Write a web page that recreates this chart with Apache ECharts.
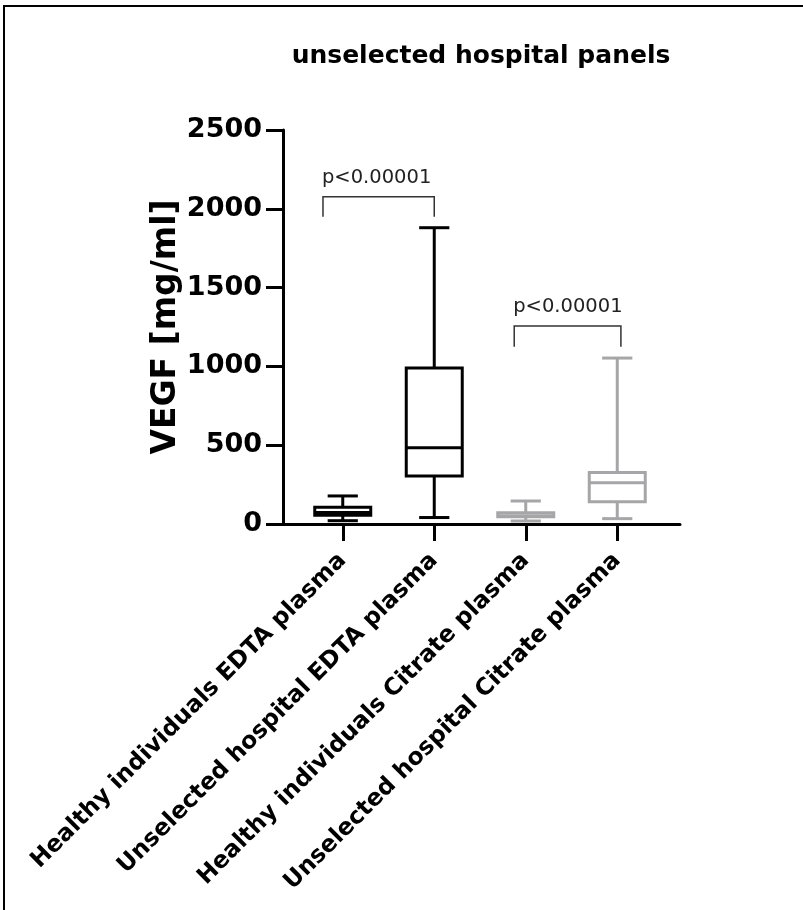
<!DOCTYPE html>
<html>
<head>
<meta charset="utf-8">
<style>html,body{margin:0;padding:0;background:#fff;}#chart{width:803px;height:910px;}</style>
<script src="https://cdn.jsdelivr.net/npm/echarts@6/dist/echarts.min.js"></script>
</head>
<body>
<div id="chart"></div>
<script>
// ---- data ----
const categories = [
  'Healthy individuals EDTA plasma',
  'Unselected hospital EDTA plasma',
  'Healthy individuals Citrate plasma',
  'Unselected hospital Citrate plasma'
];
const whiskerMin = [21, 41, 19, 34];
const q1 = [56, 305, 46, 141];
const median = [73, 484, 53, 262];
const q3 = [107, 990, 72, 327];
const whiskerMax = [178, 1880, 146, 1053];
const boxColors = ['#000000', '#000000', '#a6a6a8', '#a6a6a8'];
const yTicks = [0, 500, 1000, 1500, 2000, 2500];
const pLabels = ['p<0.00001', 'p<0.00001'];
const bracketPairs = [[0, 1], [2, 3]];
const bracketTop = [2077, 1256];
const bracketLeg = [1950, 1125];

const FONT = 'DejaVu Sans';
const boxData = categories.map((c, i) => [i, whiskerMin[i], q1[i], median[i], q3[i], whiskerMax[i]]);
const bracketData = bracketPairs.map((p, i) => [p[0], p[1], bracketTop[i], bracketLeg[i], i]);
const bracketOffsets = [[-0.216, 0.0], [-0.126, 0.04]];

const chart = echarts.init(document.getElementById('chart'));
chart.setOption({
  animation: false,
  backgroundColor: '#fff',
  graphic: [{
    type: 'rect', shape: { x: 4, y: 6, width: 900, height: 1000 },
    style: { fill: 'none', stroke: '#000', lineWidth: 2 }, silent: true
  }, {
    type: 'text', x: 481, y: 56, silent: true,
    style: { text: 'unselected hospital panels', fontFamily: FONT, fontWeight: 'bold', fontSize: 25, fill: '#000', align: 'center', verticalAlign: 'middle' }
  }],
  grid: [
    { left: 283, right: 123, top: 130, bottom: 386, containLabel: false, outerBoundsMode: 'none' },
    { left: 297, right: 140, top: 130, bottom: 386, containLabel: false, outerBoundsMode: 'none' }
  ],
  xAxis: [
    { gridIndex: 0, type: 'value', min: 0, max: 1,
      axisLine: { show: true, onZero: false, lineStyle: { color: '#000', width: 3 } },
      axisTick: { show: false }, axisLabel: { show: false }, splitLine: { show: false } },
    { gridIndex: 1, type: 'category', data: categories, boundaryGap: true,
      axisLine: { show: false },
      axisTick: { show: true, alignWithLabel: true, interval: 0, length: 17, lineStyle: { color: '#000', width: 3 } },
      axisLabel: { interval: 0, rotate: 45, margin: 33, fontFamily: FONT, fontWeight: 'bold', fontSize: 23.5, color: '#000' },
      splitLine: { show: false } }
  ],
  yAxis: [
    { gridIndex: 0, type: 'value', min: yTicks[0], max: yTicks[yTicks.length - 1], interval: 500,
      name: 'VEGF [mg/ml]', nameLocation: 'middle', nameGap: 98,
      nameTextStyle: { fontFamily: FONT, fontWeight: 'bold', fontSize: 33, color: '#000' },
      axisLine: { show: true, lineStyle: { color: '#000', width: 3 } },
      axisTick: { show: true, length: 17, lineStyle: { color: '#000', width: 3 } },
      axisLabel: { margin: 21, formatter: v => String(v), fontFamily: FONT, fontWeight: 'bold', fontSize: 27, color: '#000' },
      splitLine: { show: false } },
    { gridIndex: 1, type: 'value', min: yTicks[0], max: yTicks[yTicks.length - 1], interval: 500, show: false }
  ],
  series: [
    {
      type: 'custom', xAxisIndex: 1, yAxisIndex: 1, data: boxData,
      renderItem: function (params, api) {
        const i = api.value(0);
        const col = boxColors[i];
        const bw = api.size([1, 0])[0];
        const boxW = bw * 0.612, capW = bw * 0.33;
        const x = api.coord([i, 0])[0];
        const y = v => api.coord([i, v])[1];
        const yMin = y(api.value(1)), yQ1 = y(api.value(2)), yMed = y(api.value(3)), yQ3 = y(api.value(4)), yMax = y(api.value(5));
        const ls = { stroke: col, lineWidth: 3 };
        return { type: 'group', children: [
          { type: 'line', shape: { x1: x, y1: yQ3, x2: x, y2: yMax }, style: ls },
          { type: 'line', shape: { x1: x - capW / 2, y1: yMax, x2: x + capW / 2, y2: yMax }, style: ls },
          { type: 'line', shape: { x1: x, y1: yQ1, x2: x, y2: yMin }, style: ls },
          { type: 'line', shape: { x1: x - capW / 2, y1: yMin, x2: x + capW / 2, y2: yMin }, style: ls },
          { type: 'rect', shape: { x: x - boxW / 2, y: yQ3, width: boxW, height: yQ1 - yQ3 }, style: { fill: '#fff', stroke: col, lineWidth: 3 } },
          { type: 'line', shape: { x1: x - boxW / 2, y1: yMed, x2: x + boxW / 2, y2: yMed }, style: ls }
        ]};
      }
    },
    {
      type: 'custom', xAxisIndex: 1, yAxisIndex: 1, data: bracketData,
      renderItem: function (params, api) {
        const k = api.value(4);
        const bw = api.size([1, 0])[0];
        const xl = api.coord([api.value(0), 0])[0] + bracketOffsets[k][0] * bw;
        const xr = api.coord([api.value(1), 0])[0] + bracketOffsets[k][1] * bw;
        const yt = api.coord([0, api.value(2)])[1];
        const yl = api.coord([0, api.value(3)])[1];
        return { type: 'group', children: [
          { type: 'polyline', shape: { points: [[xl, yl], [xl, yt], [xr, yt], [xr, yl]] }, style: { stroke: '#333', lineWidth: 1.5, fill: 'none' } },
          { type: 'text', x: xl - 1, y: yt - 19, style: { text: pLabels[k], fontFamily: FONT, fontSize: 19.5, fill: '#222', align: 'left', verticalAlign: 'middle' } }
        ]};
      }
    }
  ]
});
</script>
</body>
</html>
